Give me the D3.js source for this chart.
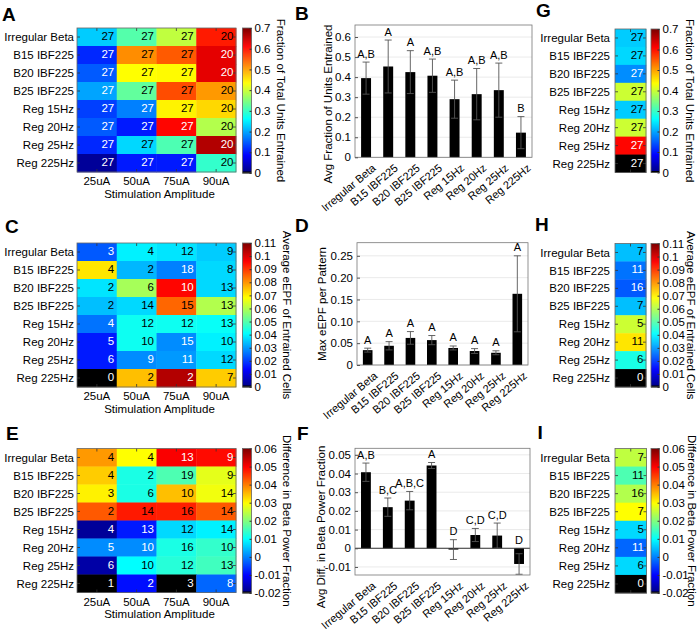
<!DOCTYPE html>
<html><head><meta charset="utf-8">
<script src="https://cdn.jsdelivr.net/npm/d3@7"></script>
<style>
body{margin:0;background:#fff}
svg{display:block}
text{font-family:"Liberation Sans",Arial,Helvetica,sans-serif}
</style>
</head><body>
<svg id="chart" width="700" height="632"></svg>
<script>
// ---------------- DATA ----------------
const patterns = ["Irregular Beta","B15 IBF225","B20 IBF225","B25 IBF225","Reg 15Hz","Reg 20Hz","Reg 25Hz","Reg 225Hz"];
const amplitudes = ["25uA","50uA","75uA","90uA"];

// A: fraction of total units entrained (rows = patterns, cols = amplitudes)
const fracEntrained = [
  [0.2275,0.32,0.394,0.595],
  [0.114,0.516,0.551,0.63],
  [0.149,0.4375,0.44,0.63],
  [0.20,0.33,0.56,0.5075],
  [0.131,0.175,0.446,0.464],
  [0.149,0.105,0.609,0.385],
  [0.114,0.236,0.315,0.665],
  [0.0175,0.105,0.105,0.2975]
];
const unitsTotal = [
  [27,27,27,20],[27,27,27,20],[27,27,27,20],[27,27,27,20],
  [27,27,27,20],[27,27,27,20],[27,27,27,20],[27,27,27,20]
];
// C: average eEPF of entrained cells
const avgEEPF = [
  [0.0234,0.0399,0.0385,0.0358],
  [0.0715,0.0335,0.0275,0.0371],
  [0.0385,0.0591,0.0957,0.0371],
  [0.0344,0.0371,0.0853,0.0605],
  [0.0261,0.0426,0.0426,0.042],
  [0.0165,0.0426,0.0289,0.0399],
  [0.0165,0.0289,0.0302,0.0371],
  [0,0.0756,0.1045,0.0743]
];
const entrainedCountC = [
  [3,4,12,9],[4,2,18,8],[2,6,10,13],[2,14,15,13],
  [4,12,12,13],[5,10,15,10],[6,9,11,12],[0,2,2,7]
];
// E: difference in beta power fraction
const betaDiff = [
  [0.038,0.03,0.0504,0.0492],
  [0.034,0.012,0.016,0.028],
  [0.031,0.012,0.035,0.029],
  [0.043,0.048,0.0476,0.043],
  [-0.018,-0.008,0.007,0.009],
  [0.001,0.001,0.012,0.014],
  [-0.017,0.01,0.013,0.015],
  [-0.02,-0.009,-0.02,-0.002]
];
const entrainedCountE = [
  [4,4,13,9],[4,2,19,9],[3,6,10,14],[2,14,16,14],
  [4,13,12,14],[5,10,16,10],[6,10,12,13],[1,2,3,8]
];
// G, H, I: single-column maps
const fracG = [0.2275,0.236,0.184,0.4025,0.2275,0.4025,0.609,0];
const countsG = [27,27,27,27,27,27,27,27];
const eepfH = [0.0344,0.0261,0.0234,0.0344,0.0633,0.0715,0.044,0];
const countsH = [7,11,16,7,5,11,6,0];
const betaI = [0.025,0.016,0.024,0.03,0.007,-0.002,0.007,-0.02];
const countsI = [7,11,16,7,5,11,6,0];

// B: avg fraction of units entrained
const meanB = [0.395,0.453,0.425,0.407,0.29,0.315,0.335,0.123];
const semB  = [0.08,0.132,0.107,0.083,0.095,0.128,0.135,0.08];
const lettersB = ["A,B","A","A","A,B","A,B","A,B","A,B","B"];
// D: max eEPF per pattern
const meanD = [0.034,0.044,0.062,0.057,0.039,0.032,0.028,0.163];
const semD  = [0.0045,0.0095,0.0145,0.0105,0.0045,0.0055,0.0045,0.087];
const lettersD = ["A","A","A","A","A","A","A","A"];
// F: avg diff in beta power fraction
const meanF = [0.0407,0.022,0.0255,0.0443,-0.0007,0.0071,0.0068,-0.0084];
const semF  = [0.0049,0.0049,0.0049,0.0016,0.0053,0.0035,0.0067,0.0055];
const lettersF = ["A,B","B,C","A,B,C","A","D","C,D","C,D","D"];

// tick labels
const ticksFrac = [0,0.1,0.2,0.3,0.4,0.5,0.6,0.7];
const ticksEEPF = [0,0.01,0.02,0.03,0.04,0.05,0.06,0.07,0.08,0.09,0.1,0.11];
const ticksBeta = [-0.02,-0.01,0,0.01,0.02,0.03,0.04,0.05,0.06];
const ticksB = [0,0.1,0.2,0.3,0.4,0.5,0.6];
const ticksD = [0,0.05,0.10,0.15,0.20,0.25];
const ticksF = [-0.01,0,0.01,0.02,0.03,0.04,0.05];

// ---------------- HELPERS ----------------
const svg = d3.select("#chart");
const FS = 11.5;

function jet(t){
  const c = v => Math.max(0, Math.min(1, v));
  const r = c(Math.min(4*t-1.5, -4*t+4.5));
  const g = c(Math.min(4*t-0.5, -4*t+3.5));
  const b = c(Math.min(4*t+0.5, -4*t+2.5));
  return d3.rgb(Math.round(r*255), Math.round(g*255), Math.round(b*255)).formatHex();
}
function cmap(t){ return t < 0.0156 ? "#000000" : jet(t); }
function textColor(t){ return (t < 0.3 || t > 0.86) ? "#ffffff" : "#000000"; }
const fmtNum = v => { const s = (+v.toFixed(2)).toString(); return s; };

function panelTitle(letter, x, y){
  svg.append("text").attr("x",x).attr("y",y).attr("font-size",19).attr("font-weight","bold").text(letter);
}

function heatmap(o){
  const g = svg.append("g");
  const x = d3.scaleBand().domain(o.cols).range([o.x0,o.x1]);
  const y = d3.scaleBand().domain(patterns).range([o.y0,o.y1]);
  const norm = d3.scaleLinear().domain(o.domain).range([0,1]).clamp(true);
  const cells = [];
  patterns.forEach((p,i)=>o.cols.forEach((c,j)=>cells.push({p,c,v:o.values[i][j],n:o.counts[i][j]})));
  g.selectAll("rect.cell").data(cells).join("rect").attr("class","cell")
    .attr("x",d=>x(d.c)).attr("y",d=>y(d.p))
    .attr("width",x.bandwidth()+0.4).attr("height",y.bandwidth()+0.4)
    .attr("fill",d=>cmap(norm(d.v)));
  g.selectAll("text.val").data(cells).join("text").attr("class","val")
    .attr("x",d=>x(d.c)+x.bandwidth()-2.5)
    .attr("y",d=>y(d.p)+y.bandwidth()/2+3)
    .attr("text-anchor","end").attr("font-size",FS)
    .attr("fill",d=>textColor(norm(d.v))).text(d=>d.n);
  // inward ticks
  const tk = g.append("g").attr("stroke","#333").attr("stroke-width",0.8);
  o.cols.forEach(c=>{
    const cx = x(c)+x.bandwidth()/2;
    tk.append("line").attr("x1",cx).attr("x2",cx).attr("y1",o.y0).attr("y2",o.y0+3);
    tk.append("line").attr("x1",cx).attr("x2",cx).attr("y1",o.y1).attr("y2",o.y1-3);
  });
  patterns.forEach(p=>{
    const cy = y(p)+y.bandwidth()/2;
    tk.append("line").attr("x1",o.x0).attr("x2",o.x0+3).attr("y1",cy).attr("y2",cy);
    tk.append("line").attr("x1",o.x1).attr("x2",o.x1-3).attr("y1",cy).attr("y2",cy);
  });
  g.append("rect").attr("x",o.x0).attr("y",o.y0).attr("width",o.x1-o.x0).attr("height",o.y1-o.y0)
    .attr("fill","none").attr("stroke","#666").attr("stroke-width",0.8);
  g.selectAll("text.row").data(patterns).join("text").attr("class","row")
    .attr("x",o.x0-o.labelGap).attr("y",d=>y(d)+y.bandwidth()/2).attr("dy","0.36em")
    .attr("text-anchor","end").attr("font-size",FS).text(d=>d);
  if (o.xTitle){
    g.selectAll("text.col").data(o.cols).join("text").attr("class","col")
      .attr("x",d=>x(d)+x.bandwidth()/2).attr("y",o.y1+13)
      .attr("text-anchor","middle").attr("font-size",FS).text(d=>d);
    g.append("text").attr("x",(o.x0+o.x1)/2+3).attr("y",o.y1+25.5)
      .attr("text-anchor","middle").attr("font-size",FS).text(o.xTitle);
  }
}

function colorbar(o){
  const g = svg.append("g");
  const y = d3.scaleLinear().domain(o.domain).range([o.y1,o.y0]);
  const norm = d3.scaleLinear().domain(o.domain).range([0,1]);
  const N = 144;
  const dv = (o.domain[1]-o.domain[0])/N;
  const steps = d3.range(N).map(i=>o.domain[0]+i*dv);
  g.selectAll("rect.s").data(steps).join("rect").attr("class","s")
    .attr("x",o.x0).attr("width",o.x1-o.x0)
    .attr("y",d=>y(d+dv)).attr("height",d=>y(d)-y(d+dv)+0.5)
    .attr("fill",d=>cmap(norm(d+dv/2)));
  g.append("rect").attr("x",o.x0).attr("y",o.y0).attr("width",o.x1-o.x0).attr("height",o.y1-o.y0)
    .attr("fill","none").attr("stroke","#666").attr("stroke-width",0.8);
  const ax = g.append("g").attr("transform",`translate(${o.x1},0)`)
    .call(d3.axisRight(y).tickValues(o.ticks).tickFormat(fmtNum).tickSizeInner(-2).tickSizeOuter(0).tickPadding(3));
  ax.select(".domain").remove();
  ax.selectAll("line").attr("stroke","#333");
  ax.selectAll("text").attr("font-size",FS).attr("font-family",null).attr("fill","#000");
  g.append("text").attr("transform",`translate(${o.titleX},${(o.y0+o.y1)/2}) rotate(90)`)
    .attr("text-anchor","middle").attr("dy","0.35em").attr("font-size",FS).text(o.title);
}

function barChart(o){
  const g = svg.append("g");
  const x = d3.scalePoint().domain(patterns).range([o.x0,o.x1]).padding(0.5);
  const bw = x.step()*0.45;
  const y = d3.scaleLinear().domain(o.domain).range([o.y1,o.y0]);
  // grid
  g.selectAll("line.grid").data(o.ticks).join("line").attr("class","grid")
    .attr("x1",o.x0).attr("x2",o.x1).attr("y1",d=>y(d)).attr("y2",d=>y(d))
    .attr("stroke","#e4e4e4").attr("stroke-width",0.8);
  const rows = patterns.map((p,i)=>({p,m:o.means[i],s:o.sems[i],l:o.letters[i]}));
  g.selectAll("rect.bar").data(rows).join("rect").attr("class","bar")
    .attr("x",d=>x(d.p)-bw/2).attr("width",bw)
    .attr("y",d=>y(Math.max(0,d.m))).attr("height",d=>Math.abs(y(d.m)-y(0)))
    .attr("fill","#000");
  if (o.domain[0] < 0){
    g.append("line").attr("x1",o.x0).attr("x2",o.x1).attr("y1",y(0)).attr("y2",y(0))
      .attr("stroke","#333").attr("stroke-width",1);
  }
  const eb = g.selectAll("g.eb").data(rows).join("g").attr("class","eb")
    .attr("stroke","#555").attr("stroke-width",0.9);
  eb.append("line").attr("x1",d=>x(d.p)).attr("x2",d=>x(d.p)).attr("y1",d=>y(d.m+d.s)).attr("y2",d=>y(d.m-d.s));
  eb.append("line").attr("x1",d=>x(d.p)-3.5).attr("x2",d=>x(d.p)+3.5).attr("y1",d=>y(d.m+d.s)).attr("y2",d=>y(d.m+d.s));
  eb.append("line").attr("x1",d=>x(d.p)-3.5).attr("x2",d=>x(d.p)+3.5).attr("y1",d=>y(d.m-d.s)).attr("y2",d=>y(d.m-d.s));
  g.selectAll("text.let").data(rows).join("text").attr("class","let")
    .attr("x",d=>x(d.p)).attr("y",d=>y(Math.max(0,d.m+d.s))-4.5)
    .attr("text-anchor","middle").attr("font-size",FS-0.5).text(d=>d.l);
  g.append("rect").attr("x",o.x0).attr("y",o.y0).attr("width",o.x1-o.x0).attr("height",o.y1-o.y0)
    .attr("fill","none").attr("stroke","#777").attr("stroke-width",0.8);
  const ax = g.append("g").attr("transform",`translate(${o.x0},0)`)
    .call(d3.axisLeft(y).tickValues(o.ticks).tickFormat(o.fmt).tickSizeInner(-3).tickSizeOuter(0).tickPadding(4));
  ax.select(".domain").remove();
  ax.selectAll("line").attr("stroke","#555");
  ax.selectAll("text").attr("font-size",FS).attr("font-family",null).attr("fill","#000");
  g.selectAll("text.xl").data(patterns).join("text").attr("class","xl")
    .attr("transform",d=>`translate(${x(d)+8},${o.y1+9}) rotate(-40)`)
    .attr("text-anchor","end").attr("dy","0.35em").attr("font-size",FS-0.5).text(d=>d);
  g.append("text").attr("transform",`translate(${o.titleX},${o.titleY}) rotate(-90)`)
    .attr("text-anchor","middle").attr("dy","0.35em").attr("font-size",FS).text(o.yTitle);
}

// ---------------- PANELS ----------------
panelTitle("A",2,20.5); panelTitle("B",295,20); panelTitle("G",536,17);
panelTitle("C",5,233); panelTitle("D",295,232); panelTitle("H",535,231);
panelTitle("E",6,440); panelTitle("F",297,440); panelTitle("I",537.5,439);

heatmap({x0:77,x1:236,y0:28,y1:172,cols:amplitudes,values:fracEntrained,counts:unitsTotal,domain:[0,0.7],labelGap:3,xTitle:"Stimulation Amplitude"});
colorbar({x0:242.5,x1:251.5,y0:28,y1:173,domain:[0,0.7],ticks:ticksFrac,title:"Fraction of Total Units Entrained",titleX:281});

heatmap({x0:77,x1:236,y0:243,y1:387,cols:amplitudes,values:avgEEPF,counts:entrainedCountC,domain:[0,0.11],labelGap:3,xTitle:"Stimulation Amplitude"});
colorbar({x0:242.5,x1:251.5,y0:243,y1:387,domain:[0,0.11],ticks:ticksEEPF,title:"Average eEPF of Entrained Cells",titleX:287});

heatmap({x0:77,x1:236,y0:448.5,y1:592.5,cols:amplitudes,values:betaDiff,counts:entrainedCountE,domain:[-0.02,0.06],labelGap:3,xTitle:"Stimulation Amplitude"});
colorbar({x0:242.5,x1:251.5,y0:448.5,y1:593,domain:[-0.02,0.06],ticks:ticksBeta,title:"Difference in Beta Power Fraction",titleX:287});

const one = ["all"];
heatmap({x0:615,x1:646,y0:29,y1:172.5,cols:one,values:fracG.map(v=>[v]),counts:countsG.map(v=>[v]),domain:[0,0.7],labelGap:5});
colorbar({x0:651,x1:659.5,y0:29,y1:172.5,domain:[0,0.7],ticks:ticksFrac,title:"Fraction of Total Units Entrained",titleX:690});

heatmap({x0:615,x1:646,y0:243.5,y1:387,cols:one,values:eepfH.map(v=>[v]),counts:countsH.map(v=>[v]),domain:[0,0.11],labelGap:5});
colorbar({x0:651,x1:659.5,y0:243.5,y1:387,domain:[0,0.11],ticks:ticksEEPF,title:"Average eEPF of Entrained Cells",titleX:691.5});

heatmap({x0:615,x1:646.5,y0:448.5,y1:593,cols:one,values:betaI.map(v=>[v]),counts:countsI.map(v=>[v]),domain:[-0.02,0.06],labelGap:5});
colorbar({x0:651,x1:659.5,y0:448.5,y1:593,domain:[-0.02,0.06],ticks:ticksBeta,title:"Difference in Beta Power Fraction",titleX:692});

barChart({x0:355,x1:532,y0:25,y1:157.3,domain:[0,0.66],ticks:ticksB,fmt:v=>v===0?"0":v.toFixed(1),
  means:meanB,sems:semB,letters:lettersB,yTitle:"Avg Fraction of Units Entrained",titleX:328,titleY:104});
barChart({x0:357,x1:528,y0:242.7,y1:365,domain:[0,0.28],ticks:ticksD,fmt:v=>v===0?"0":v.toFixed(2),
  means:meanD,sems:semD,letters:lettersD,yTitle:"Max eEPF per Pattern",titleX:322,titleY:304});
barChart({x0:355,x1:530,y0:448.3,y1:575,domain:[-0.0143,0.0535],ticks:ticksF,fmt:v=>v===0?"0":v.toFixed(2),
  means:meanF,sems:semF,letters:lettersF,yTitle:"Avg Diff. in Beta Power Fraction",titleX:321,titleY:527});
</script>
</body></html>
